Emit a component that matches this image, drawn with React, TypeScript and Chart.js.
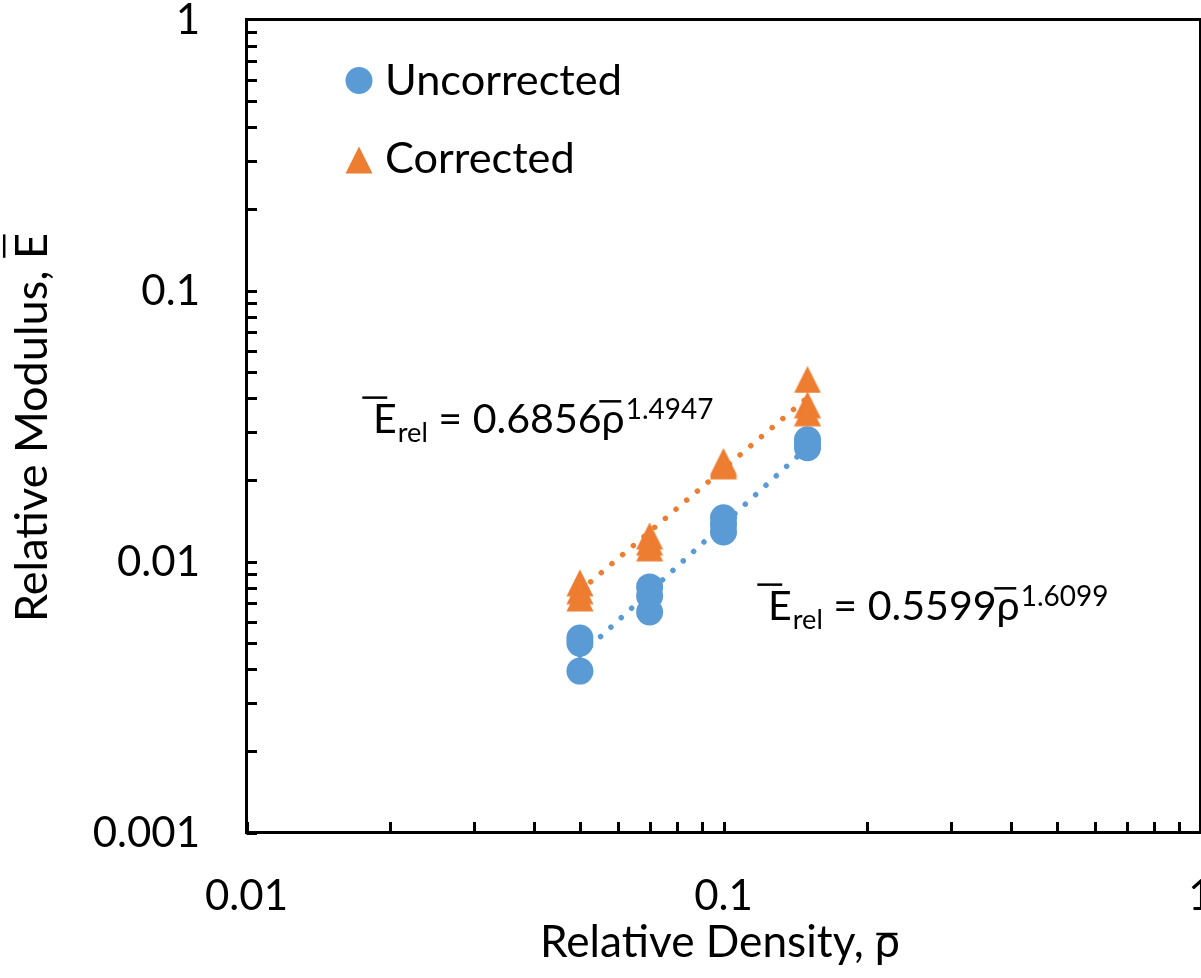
import React, { useEffect, useRef } from 'react';
import { Chart, registerables } from 'chart.js';

Chart.register(...registerables);

// ---------------- data ----------------
const densityUncorrected = [0.05, 0.05, 0.05, 0.07, 0.07, 0.07, 0.1, 0.1, 0.1, 0.15, 0.15, 0.15];
const modulusUncorrected = [0.00522, 0.005, 0.00394, 0.00806, 0.00746, 0.00651, 0.01449, 0.0137, 0.01286, 0.02812, 0.0272, 0.02627];
const densityCorrected = [0.05, 0.05, 0.05, 0.07, 0.07, 0.07, 0.1, 0.1, 0.1, 0.15, 0.15, 0.15];
const modulusCorrected = [0.00834, 0.0078, 0.00734, 0.01243, 0.0118, 0.01123, 0.02338, 0.0229, 0.02254, 0.04696, 0.03788, 0.03538];
const fitDensity = [0.05, 0.15];
const fitUncorrected = [0.0045, 0.0264];
const fitCorrected = [0.00779, 0.04025];

const seriesNames = ['Uncorrected', 'Corrected'];
const xTickValues = [0.01, 0.1, 1];
const xTickLabels = ['0.01', '0.1', '1'];
const yTickValues = [0.001, 0.01, 0.1, 1];
const yTickLabels = ['0.001', '0.01', '0.1', '1'];
const xAxisTitle = 'Relative Density, ρ';
const yAxisTitle = 'Relative Modulus, E';
const equationUncorrected = { coef: '0.5599', exp: '1.6099' };
const equationCorrected = { coef: '0.6856', exp: '1.4947' };

// ---------------- styles ----------------
const BLUE = '#5B9BD5';
const ORANGE = '#ED7D31';
const FONT = 'Lato, "Noto Sans", "DejaVu Sans", sans-serif';
const fontPx = (s: number) => `${s}px ${FONT}`;

function fitSize(ctx: CanvasRenderingContext2D, text: string, width: number) {
  ctx.font = fontPx(100);
  return (100 * width) / ctx.measureText(text).width;
}

function makeTriangle(color: string, w: number, h: number) {
  const c = document.createElement('canvas');
  c.width = w;
  c.height = h;
  const g = c.getContext('2d')!;
  g.fillStyle = color;
  g.beginPath();
  g.moveTo(w / 2, 0.5);
  g.lineTo(w - 0.5, h - 0.5);
  g.lineTo(0.5, h - 0.5);
  g.closePath();
  g.fill();
  return c;
}

function hbar(ctx: CanvasRenderingContext2D, x1: number, x2: number, y: number, lw = 2.5) {
  ctx.save();
  ctx.strokeStyle = '#000';
  ctx.lineWidth = lw;
  ctx.beginPath();
  ctx.moveTo(x1, y);
  ctx.lineTo(x2, y);
  ctx.stroke();
  ctx.restore();
}

function drawEquation(ctx: CanvasRenderingContext2D, x: number, y: number, coef: string, exp: string, M: number) {
  const S = M * 0.66;
  const P = M * 0.68;
  ctx.fillStyle = '#000';
  ctx.textAlign = 'left';
  ctx.textBaseline = 'alphabetic';
  ctx.font = fontPx(M);
  const eW = ctx.measureText('E').width;
  ctx.fillText('E', x, y);
  hbar(ctx, x - 0.45 * eW, x + 0.6 * eW, y - 0.86 * M);
  let cx = x + eW + 1;
  ctx.font = fontPx(S);
  ctx.fillText('rel', cx, y + 0.23 * M);
  cx += ctx.measureText('rel').width;
  ctx.font = fontPx(M);
  const mid = ' = ' + coef;
  ctx.fillText(mid, cx, y);
  cx += ctx.measureText(mid).width;
  const rW = ctx.measureText('ρ').width;
  ctx.fillText('ρ', cx, y);
  hbar(ctx, cx - 0.1 * rW, cx + 0.85 * rW, y - 0.77 * M);
  cx += rW + 1;
  ctx.font = fontPx(P);
  ctx.fillText(exp, cx, y - 0.34 * M);
}

function makeDecorPlugin(tri: HTMLCanvasElement) {
  return {
    id: 'decor',
    afterDraw(chart: any) {
      const ctx: CanvasRenderingContext2D = chart.ctx;
      const { left, top, right, bottom } = chart.chartArea;
      const xs = chart.scales.x;
      const ys = chart.scales.y;
      ctx.save();

      // spines
      ctx.strokeStyle = '#000';
      ctx.lineWidth = 3;
      ctx.strokeRect(left, top, right - left, bottom - top);

      // ticks (inward)
      ctx.beginPath();
      for (let d = 0; d < xTickValues.length - 1; d++) {
        for (let k = 1; k <= 9; k++) {
          const px = Math.round(xs.getPixelForValue(xTickValues[d] * k)) + 0.5;
          ctx.moveTo(px, bottom);
          ctx.lineTo(px, bottom - 10.5);
        }
      }
      for (let d = 0; d < yTickValues.length - 1; d++) {
        for (let k = 1; k <= 9; k++) {
          const py = Math.round(ys.getPixelForValue(yTickValues[d] * k)) + 0.5;
          ctx.moveTo(left, py);
          ctx.lineTo(left + 10.5, py);
        }
      }
      ctx.stroke();

      // tick labels
      const T = fitSize(ctx, '0.01', 83);
      ctx.font = fontPx(T);
      ctx.fillStyle = '#000';
      ctx.textBaseline = 'alphabetic';
      ctx.textAlign = 'center';
      xTickValues.forEach((v, i) => {
        ctx.fillText(xTickLabels[i], xs.getPixelForValue(v), bottom + 77.5);
      });
      ctx.textAlign = 'right';
      yTickValues.forEach((v, i) => {
        ctx.fillText(yTickLabels[i], 200, ys.getPixelForValue(v) + 14);
      });

      // x axis title
      const XT = fitSize(ctx, xAxisTitle, 360);
      ctx.font = fontPx(XT);
      ctx.textAlign = 'left';
      const xtW = ctx.measureText(xAxisTitle).width;
      const xtStart = 720 - xtW / 2;
      ctx.fillText(xAxisTitle, xtStart, 957);
      const rhoW = ctx.measureText('ρ').width;
      hbar(ctx, xtStart + xtW - rhoW * 0.95, xtStart + xtW - rhoW * 0.1, 957 - 0.52 * XT);

      // y axis title
      const YT = fitSize(ctx, yAxisTitle, 389);
      ctx.save();
      ctx.translate(47, 427.5);
      ctx.rotate(-Math.PI / 2);
      ctx.font = fontPx(YT);
      ctx.textAlign = 'left';
      const ytW = ctx.measureText(yAxisTitle).width;
      ctx.fillText(yAxisTitle, -ytW / 2, 0);
      const eW = ctx.measureText('E').width;
      hbar(ctx, ytW / 2 - eW * 0.95, ytW / 2 - eW * 0.05, -0.95 * YT);
      ctx.restore();

      // legend
      const L = fitSize(ctx, seriesNames[0], 237);
      ctx.font = fontPx(L);
      ctx.textAlign = 'left';
      ctx.fillStyle = BLUE;
      ctx.beginPath();
      ctx.arc(359, 80.5, 13.5, 0, Math.PI * 2);
      ctx.fill();
      ctx.drawImage(tri, 359 - 14, 160 - 14);
      ctx.fillStyle = '#000';
      ctx.fillText(seriesNames[0], 385, 95);
      ctx.fillText(seriesNames[1], 385, 173);

      // equations
      const M = fitSize(ctx, equationCorrected.coef, 124) * 1.04;
      drawEquation(ctx, 373, 433, equationCorrected.coef, equationCorrected.exp, M);
      drawEquation(ctx, 768, 620, equationUncorrected.coef, equationUncorrected.exp, M);

      ctx.restore();
    },
  };
}

export default function App() {
  const ref = useRef<HTMLCanvasElement | null>(null);

  useEffect(() => {
    document.body.style.margin = '0';
    document.body.style.overflow = 'hidden';
    const canvas = ref.current!;
    const tri = makeTriangle(ORANGE, 28, 28);
    const toPts = (xs: number[], ys: number[]) => xs.map((x, i) => ({ x, y: ys[i] }));
    const chart = new Chart(canvas, {
      type: 'scatter',
      data: {
        datasets: [
          {
            label: 'Uncorrected fit',
            data: toPts(fitDensity, fitUncorrected),
            showLine: true,
            borderColor: BLUE,
            borderWidth: 5.5,
            borderDash: [0.01, 14],
            borderCapStyle: 'round',
            pointRadius: 0,
            order: 0,
          } as any,
          {
            label: 'Corrected fit',
            data: toPts(fitDensity, fitCorrected),
            showLine: true,
            borderColor: ORANGE,
            borderWidth: 5.5,
            borderDash: [0.01, 14],
            borderCapStyle: 'round',
            pointRadius: 0,
            order: 0,
          } as any,
          {
            label: seriesNames[0],
            data: toPts(densityUncorrected, modulusUncorrected),
            backgroundColor: BLUE,
            borderColor: BLUE,
            pointRadius: 13.5,
            pointBorderWidth: 0,
            order: 2,
          },
          {
            label: seriesNames[1],
            data: toPts(densityCorrected, modulusCorrected),
            backgroundColor: ORANGE,
            borderColor: ORANGE,
            pointStyle: tri as any,
            pointRadius: 14,
            pointBorderWidth: 0,
            order: 1,
          },
        ],
      },
      options: {
        animation: false,
        responsive: false,
        devicePixelRatio: 1,
        layout: { autoPadding: false, padding: { left: 246.5, top: 19.5, right: 0.5, bottom: 145.5 } },
        scales: {
          x: { type: 'logarithmic', min: 0.01, max: 1, display: false },
          y: { type: 'logarithmic', min: 0.001, max: 1, display: false },
        },
        plugins: { legend: { display: false }, tooltip: { enabled: false } },
      },
      plugins: [makeDecorPlugin(tri)],
    });
    return () => chart.destroy();
  }, []);

  return (
    <div style={{ position: 'fixed', left: 0, top: 0, width: 1201, height: 978, overflow: 'hidden', background: '#fff' }}>
      <canvas ref={ref} width={1201} height={978} style={{ display: 'block', width: 1201, height: 978 }} />
    </div>
  );
}
